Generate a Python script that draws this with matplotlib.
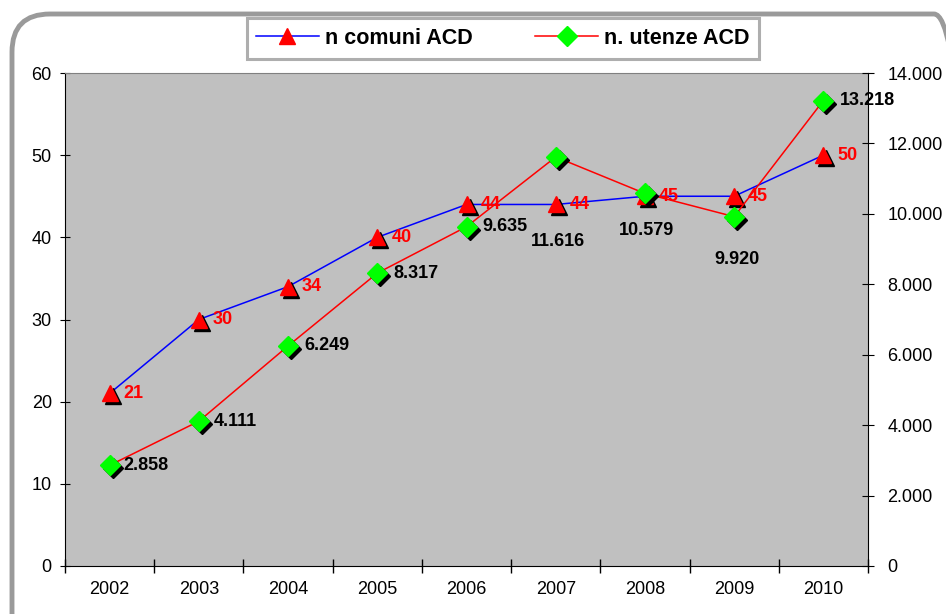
import numpy as np
import matplotlib
matplotlib.use("Agg")
import matplotlib.pyplot as plt
from matplotlib.patches import FancyBboxPatch
from matplotlib.lines import Line2D
from matplotlib.transforms import offset_copy
from matplotlib.ticker import FuncFormatter, MultipleLocator

plt.rcParams['font.family'] = ['Liberation Sans', 'DejaVu Sans']

# data
anni = ['2002', '2003', '2004', '2005', '2006', '2007', '2008', '2009', '2010']
comuni = [21, 30, 34, 40, 44, 44, 45, 45, 50]
utenze = [2858, 4111, 6249, 8317, 9635, 11616, 10579, 9920, 13218]

# label offsets in pixels (x, y)
off_comuni = [(14, 0)] * 9
off_utenze = [(14, 0), (15, 0), (16, 0), (16, 0), (16, 0),
              (2, -85), (2, -37), (3, -43), (16, 0)]

def fmt_it(v, pos=None):
    return f"{int(v):,}".replace(",", ".")

fig = plt.figure(figsize=(9.46, 6.14), dpi=100)
fig.patch.set_facecolor('white')

# rounded outer border
border = FancyBboxPatch((0.12, -0.5), 9.6, 6.5, boxstyle="round,pad=0,rounding_size=0.38",
                        transform=fig.dpi_scale_trans, facecolor='none',
                        edgecolor='#9a9a9a', linewidth=3.5, zorder=0)
fig.patches.append(border)

ax = fig.add_axes([65/946, 48/614, 803/946, 493/614])
ax.set_facecolor('#c0c0c0')
x = np.arange(len(anni))

shadow = offset_copy(ax.transData, fig=fig, x=3, y=-3, units='dots')
ax.plot(x, comuni, color='blue', lw=1.1, zorder=2)
ax.plot(x, comuni, ls='none', marker='^', ms=11, color='black', transform=shadow, zorder=3)
ax.plot(x, comuni, ls='none', marker='^', ms=11, color='red', zorder=4)
for i, v in enumerate(comuni):
    ax.annotate(str(v), (x[i], v), xytext=off_comuni[i], textcoords='offset pixels',
                ha='left', va='center', color='red', fontsize=13, fontweight='bold', zorder=5)

ax.set_xlim(-0.5, len(anni) - 0.5)
ax.set_ylim(0, 60)
ax.yaxis.set_major_locator(MultipleLocator(10))
ax.set_xticks(x)
ax.set_xticklabels(anni)
ax.set_xticks(np.arange(-0.5, len(anni)), minor=True)
ax.tick_params(axis='x', which='major', length=0, pad=11, labelsize=13)
ax.tick_params(axis='x', which='minor', length=10, direction='inout', width=1)
ax.tick_params(axis='y', length=7, direction='inout', pad=6, labelsize=13)
for s in ['left', 'bottom', 'right']:
    ax.spines[s].set_color('black')
ax.spines['top'].set_color('#808080')

ax2 = ax.twinx()
ax2.set_ylim(0, 14000)
ax2.yaxis.set_major_locator(MultipleLocator(2000))
ax2.yaxis.set_major_formatter(FuncFormatter(fmt_it))
ax2.tick_params(axis='y', length=8, direction='inout', pad=10, labelsize=13)
shadow2 = offset_copy(ax2.transData, fig=fig, x=3, y=-3, units='dots')
ax2.plot(x, utenze, color='red', lw=1.1, zorder=2)
ax2.plot(x, utenze, ls='none', marker='D', ms=10, color='black', transform=shadow2, zorder=3)
ax2.plot(x, utenze, ls='none', marker='D', ms=10, color='#00ff00', zorder=4)
for i, v in enumerate(utenze):
    dx, dy = off_utenze[i]
    ax2.annotate(fmt_it(v), (x[i], v), xytext=(dx, dy), textcoords='offset pixels',
                 ha='left' if dx > 5 else 'center', va='center', color='black',
                 fontsize=13, fontweight='bold', zorder=5)
for s in ax2.spines.values():
    s.set_visible(False)

handles = [Line2D([], [], color='blue', lw=1.1, marker='^', ms=11, mfc='red', mec='red'),
           Line2D([], [], color='red', lw=1.1, marker='D', ms=10, mfc='#00ff00', mec='#00ff00')]
leg = fig.legend(handles, ['n comuni ACD', 'n. utenze ACD'], loc='center',
                 bbox_to_anchor=(503/946, 1 - 38.5/614), ncol=2, frameon=True, fancybox=False,
                 prop={'size': 15.5, 'weight': 'bold'}, handlelength=2.9, handletextpad=0.3,
                 columnspacing=2.9, borderpad=0.45, borderaxespad=0)
leg.get_frame().set_edgecolor('#9a9a9a')
leg.get_frame().set_linewidth(2.2)

fig.savefig('out.png', dpi=100)
